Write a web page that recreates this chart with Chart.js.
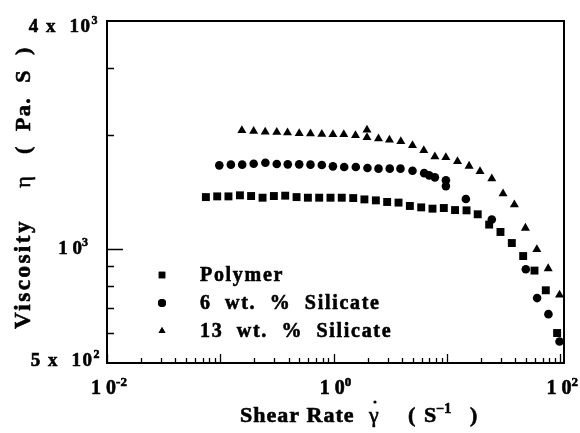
<!DOCTYPE html>
<html>
<head>
<meta charset="utf-8">
<script src="https://cdn.jsdelivr.net/npm/chart.js@4.4.1/dist/chart.umd.min.js"></script>
<style>
  body { margin: 0; background: #fff; }
  #wrap { width: 580px; height: 433px; }
</style>
</head>
<body>
<div id="wrap"><canvas id="viscChart" width="580" height="433"></canvas></div>
<script>
// === Data (shear rate in 1/s, viscosity in Pa.s) ===
const seriesNames = ['Polymer', '6  wt.  %  Silicate', '13  wt.  %  Silicate'];
const seriesStyles = ['rect', 'circle', 'triangle'];

const polymerRate = [0.0746, 0.0939, 0.118, 0.149, 0.187, 0.236, 0.297, 0.374, 0.471, 0.593,
  0.746, 0.939, 1.18, 1.49, 1.87, 2.36, 2.97, 3.74, 4.71, 5.93,
  7.46, 9.39, 11.8, 14.9, 18.7, 23.6, 29.7, 37.4, 47.1, 59.3, 74.6, 93.9];
const polymerVisc = [1371, 1377, 1377, 1386, 1380, 1366, 1380, 1383, 1371, 1366,
  1366, 1366, 1366, 1363, 1352, 1344, 1331, 1326, 1299, 1288,
  1278, 1283, 1267, 1265, 1235, 1160, 1109, 1037, 958, 877, 778, 600];

const silicate6Rate = [0.098, 0.124, 0.156, 0.197, 0.25, 0.315, 0.394, 0.497, 0.625, 0.787,
  0.986, 1.24, 1.57, 1.99, 2.49, 3.13, 3.89, 4.97, 6.3, 6.97,
  7.83, 9.8, 9.8, 14.7, 24.9, 49.7, 62.5, 78.7, 98.6];
const silicate6Visc = [1663, 1670, 1670, 1680, 1690, 1676, 1673, 1673, 1670, 1666,
  1653, 1646, 1646, 1636, 1630, 1630, 1630, 1610, 1586, 1565,
  1546, 1518, 1466, 1355, 1196, 884, 742, 673, 570];

const silicate13Rate = [0.155, 0.197, 0.249, 0.315, 0.392, 0.497, 0.625, 0.787, 0.986, 1.23,
  1.56, 1.97, 1.97, 2.49, 3.11, 3.92, 4.97, 6.25, 7.83, 9.79,
  12.4, 15.7, 19.6, 24.9, 31.3, 39.4, 49.3, 62.2, 78.3, 98.6];
const silicate13Visc = [2057, 2048, 2038, 2035, 2028, 2019, 2016, 2011, 2007, 2007,
  1995, 2063, 1971, 1956, 1942, 1924, 1878, 1822, 1753, 1746,
  1704, 1656, 1603, 1534, 1400, 1310, 1136, 998, 888, 756];

// axis ranges and tick labels
const xRange = [0.01, 108];
const yRange = [500, 4000];
const xMajorTicks = [0.01, 0.1, 1, 10, 100];
const xLabelTicks = [0.01, 1, 100];
const xLabelExp = ['-2', '0', '2'];
const yMinorTicks = [600, 700, 800, 900, 2000, 3000];
const yMajorTicks = [1000];

const FONT = '"Liberation Serif", "Times New Roman", serif';

function toPoints(xs, ys) {
  return xs.map((v, i) => ({ x: v, y: ys[i] }));
}

// filled + thin stroke, to get the heavy look of the scanned figure
function heavyText(ctx, txt, x, y) {
  ctx.fillText(txt, x, y);
  ctx.strokeText(txt, x, y);
}

// base text with a superscript after it
function supText(ctx, base, sup, x, y, size, align, spacing) {
  const supSize = Math.round(size * 0.64);
  ctx.letterSpacing = (spacing || 0) + 'px';
  ctx.font = `bold ${size}px ${FONT}`;
  const wb = ctx.measureText(base).width;
  ctx.font = `bold ${supSize}px ${FONT}`;
  const ws = ctx.measureText(sup).width;
  let left = x;
  if (align === 'right') left = x - wb - ws;
  if (align === 'center') left = x - (wb + ws) / 2;
  ctx.textAlign = 'left';
  ctx.font = `bold ${size}px ${FONT}`;
  heavyText(ctx, base, left, y);
  ctx.font = `bold ${supSize}px ${FONT}`;
  heavyText(ctx, sup, left + wb, y - size * 0.4);
  ctx.letterSpacing = '0px';
}

// === Frame, inward ticks, labels, titles, legend ===
const frameAndText = {
  id: 'frameAndText',
  afterDraw(chart) {
    const { ctx, chartArea: a } = chart;
    const xs = chart.scales.x;
    const ys = chart.scales.y;
    ctx.save();
    ctx.fillStyle = '#000';
    ctx.strokeStyle = '#000';

    // box
    ctx.lineWidth = 2;
    ctx.strokeRect(a.left, a.top, a.right - a.left, a.bottom - a.top);

    // x ticks (pointing up into the plot)
    ctx.lineWidth = 1.3;
    ctx.beginPath();
    xMajorTicks.forEach(d => {
      for (let m = 1; m <= 9; m++) {
        const v = d * m;
        if (v > xRange[1]) break;
        const px = Math.round(xs.getPixelForValue(v)) + 0.5;
        const len = m === 1 ? 9 : 5;
        ctx.moveTo(px, a.bottom);
        ctx.lineTo(px, a.bottom - len);
      }
    });
    // y ticks (pointing right into the plot)
    yMinorTicks.forEach(v => {
      const py = Math.round(ys.getPixelForValue(v)) + 0.5;
      ctx.moveTo(a.left, py);
      ctx.lineTo(a.left + 7, py);
    });
    yMajorTicks.forEach(v => {
      const py = Math.round(ys.getPixelForValue(v)) + 0.5;
      ctx.moveTo(a.left, py);
      ctx.lineTo(a.left + 16, py);
    });
    ctx.stroke();

    ctx.lineWidth = 0.6;
    ctx.textBaseline = 'alphabetic';

    // x tick labels
    xLabelTicks.forEach((v, i) => {
      supText(ctx, '1 0', xLabelExp[i], xs.getPixelForValue(v) + 2, 394, 20, 'center');
    });

    // y tick labels
    supText(ctx, '4 x  10', '3', 99, 32, 19, 'right', 1.5);
    supText(ctx, '1 0', '3', 88, ys.getPixelForValue(1000) + 5, 19, 'right');
    supText(ctx, '5 x  10', '2', 101, 366, 19, 'right', 1.5);

    // x title
    ctx.textAlign = 'left';
    ctx.font = `bold 22px ${FONT}`;
    ctx.letterSpacing = '1px';
    heavyText(ctx, 'Shear Rate', 240, 422);
    ctx.letterSpacing = '0px';
    ctx.font = `22px ${FONT}`;
    heavyText(ctx, '\u03B3', 369, 422);
    ctx.beginPath();
    ctx.arc(375, 402, 1.6, 0, Math.PI * 2);
    ctx.fill();
    ctx.font = `bold 22px ${FONT}`;
    heavyText(ctx, '(', 408, 422);
    supText(ctx, 'S', '\u22121', 424, 422, 22, 'left');
    ctx.font = `bold 22px ${FONT}`;
    heavyText(ctx, ')', 470, 422);

    // y title (rotated)
    ctx.save();
    ctx.translate(30, 0);
    ctx.rotate(-Math.PI / 2);
    ctx.textAlign = 'center';
    ctx.font = `bold 23px ${FONT}`;
    ctx.letterSpacing = '2.5px';
    heavyText(ctx, 'Viscosity', -274, 0);
    ctx.letterSpacing = '0px';
    ctx.font = `22px ${FONT}`;
    heavyText(ctx, '\u03B7', -182, 0);
    ctx.font = `bold 22px ${FONT}`;
    ctx.letterSpacing = '1.5px';
    heavyText(ctx, '(  Pa.  S  )', -100, 0);
    ctx.restore();

    // legend
    const markerR = [4.6, 4, 4];
    const rowY = [275, 303, 331];
    seriesNames.forEach((name, i) => {
      Chart.helpers.drawPoint(ctx, {
        pointStyle: seriesStyles[i], radius: markerR[i], rotation: 0, borderWidth: 0
      }, 162, rowY[i]);
      ctx.fill();
      ctx.font = `bold 20px ${FONT}`;
      ctx.letterSpacing = '1.7px';
      ctx.textAlign = 'left';
      heavyText(ctx, name, 200, rowY[i] + 6);
      ctx.letterSpacing = '0px';
    });

    ctx.restore();
  }
};

function makeSet(label, xs, ys, style, radius) {
  return {
    label: label,
    data: toPoints(xs, ys),
    pointStyle: style,
    pointRadius: radius,
    pointBackgroundColor: '#000',
    pointBorderColor: '#000',
    pointBorderWidth: 0,
    showLine: false
  };
}

new Chart(document.getElementById('viscChart'), {
  type: 'scatter',
  data: {
    datasets: [
      makeSet(seriesNames[0], polymerRate, polymerVisc, seriesStyles[0], 5.6),
      makeSet(seriesNames[1], silicate6Rate, silicate6Visc, seriesStyles[1], 4.3),
      makeSet(seriesNames[2], silicate13Rate, silicate13Visc, seriesStyles[2], 5.2)
    ]
  },
  options: {
    responsive: false,
    animation: false,
    layout: { padding: { left: 107, right: 16, top: 21, bottom: 70 } },
    scales: {
      x: { type: 'logarithmic', min: xRange[0], max: xRange[1], display: false },
      y: { type: 'logarithmic', min: yRange[0], max: yRange[1], display: false }
    },
    plugins: {
      legend: { display: false },
      tooltip: { enabled: false }
    }
  },
  plugins: [frameAndText]
});
</script>
</body>
</html>
